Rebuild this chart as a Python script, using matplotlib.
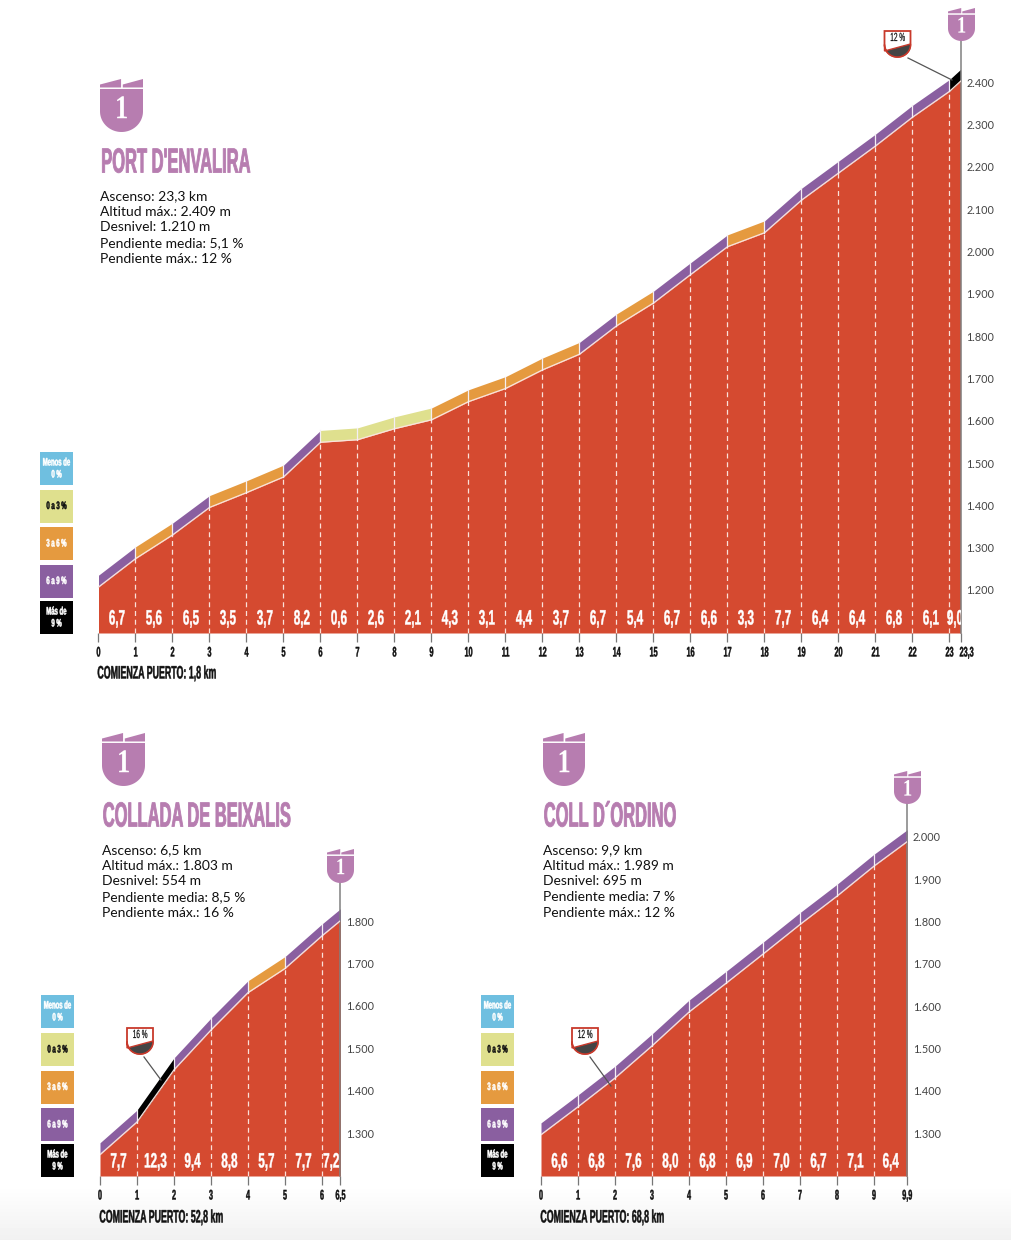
import numpy as np
import matplotlib
matplotlib.use("Agg")
import matplotlib.pyplot as plt
from matplotlib.patches import Polygon, Rectangle
from matplotlib.patheffects import AbstractPathEffect
from matplotlib.transforms import Affine2D, Bbox, ScaledTranslation

W, H = 1012, 1240
HEAVY = ['Liberation Sans', 'DejaVu Sans']
BODY = ['Lato', 'DejaVu Sans']
RED, PINK = '#d54a30', '#b77db0'
COL = {'m': '#6fbfe0', 'y': '#dfe08e', 'o': '#e59a3f', 'p': '#8a5fa0', 'k': '#000000'}

# Port d'Envalira
env_km = [0, 1, 2, 3, 4, 5, 6, 7, 8, 9, 10, 11, 12, 13, 14, 15, 16, 17, 18, 19, 20, 21, 22, 23, 23.3]
env_alt = [1207, 1274, 1330, 1395, 1430, 1467, 1549, 1555, 1581, 1602, 1645, 1676, 1720, 1757, 1824,
           1878, 1945, 2011, 2044, 2121, 2185, 2249, 2317, 2378, 2402]
env_pct = ['6,7', '5,6', '6,5', '3,5', '3,7', '8,2', '0,6', '2,6', '2,1', '4,3', '3,1', '4,4', '3,7', '6,7',
           '5,4', '6,7', '6,6', '3,3', '7,7', '6,4', '6,4', '6,8', '6,1', '9,0']
env_cls = list('popoopyyyoooo' + 'popp' + 'o' + 'ppppp' + 'k')
env_ticks = [str(i) for i in range(24)] + ['23,3']
env_yticks = list(range(1200, 2401, 100))

# Collada de Beixalis
bei_km = [0, 1, 2, 3, 4, 5, 6, 6.5]
bei_alt = [1249, 1326, 1449, 1543, 1631, 1688, 1765, 1801]
bei_pct = ['7,7', '12,3', '9,4', '8,8', '5,7', '7,7', '7,2']
bei_cls = list('pkppopp')
bei_ticks = ['0', '1', '2', '3', '4', '5', '6', '6,5']
bei_yticks = list(range(1300, 1801, 100))

# Coll d'Ordino
ord_km = [0, 1, 2, 3, 4, 5, 6, 7, 8, 9, 9.9]
ord_alt = [1296, 1362, 1430, 1506, 1586, 1654, 1723, 1793, 1860, 1931, 1989]
ord_pct = ['6,6', '6,8', '7,6', '8,0', '6,8', '6,9', '7,0', '6,7', '7,1', '6,4']
ord_cls = list('pppppppppp')
ord_ticks = ['0', '1', '2', '3', '4', '5', '6', '7', '8', '9', '9,9']
ord_yticks = list(range(1300, 2001, 100))

legend_labels = ['Menos de\n0 %', '0 a 3 %', '3 a 6 %', '6 a 9 %', 'Más de\n9 %']
legend_keys = ['m', 'y', 'o', 'p', 'k']
BAND = 28


class Cond(AbstractPathEffect):
    """Squeeze a text horizontally (no condensed display face is installed)."""

    def __init__(self, sx, anchor='center', stroke=0.3):
        super().__init__()
        self.sx, self.anchor, self.stroke = sx, anchor, stroke

    def draw_path(self, renderer, gc, tpath, affine, rgbFace=None):
        e = tpath.get_extents()
        c = (e.x0 + e.x1) / 2 if self.anchor == 'center' else e.x0
        aff = Affine2D().translate(-c, 0).scale(self.sx, 1).translate(c, 0) + affine
        g = renderer.new_gc()
        g.copy_properties(gc)
        g.set_linewidth(self.stroke)
        if rgbFace is not None:
            g.set_foreground(rgbFace)
        renderer.draw_path(g, tpath, aff, rgbFace)
        g.restore()


def condense(t, sx, anchor='center', stroke=0.3):
    """Apply the squeeze and make the text report the box it really occupies."""
    t.set_path_effects([Cond(sx, anchor, stroke)])
    full = t.get_window_extent

    def extent(renderer=None, dpi=None):
        b = full(renderer, dpi)
        w = b.width * sx
        x0 = (b.x0 + b.x1 - w) / 2 if anchor == 'center' else b.x0
        return Bbox.from_extents(x0, b.y0, x0 + w, b.y1)

    t.get_window_extent = extent
    return t


fig = plt.figure(figsize=(W / 100, H / 100), dpi=100, facecolor='white')

bg = fig.add_axes([0, 0, 1, 1], zorder=0)
bg.set_axis_off()
grad = np.concatenate([np.ones(1185), np.linspace(1, 0.945, 55)])[:, None]
bg.imshow(grad, cmap='gray', vmin=0, vmax=1, aspect='auto', extent=(0, W, H, 0))


def profile(km, alt, pct, cls, ticks, yticks, x0, km_px, ref_px, px100, base_px, top_px, last_shift=0):
    xmax = km[-1]
    ymin = yticks[0] - (base_px - ref_px) / px100 * 100
    ymax = yticks[0] + (ref_px - top_px) / px100 * 100
    ax = fig.add_axes([x0 / W, 1 - base_px / H, xmax * km_px / W, (base_px - top_px) / H], zorder=2)
    ax.patch.set_alpha(0)
    ax.set_xlim(0, xmax)
    ax.set_ylim(ymin, ymax)
    for i in range(len(pct)):
        xs = km[i:i + 2]
        ys = np.array(alt[i:i + 2])
        ax.fill_between(xs, ys, ys + BAND, color=COL[cls[i]], lw=0, zorder=1)
    ax.fill_between(km, ymin, alt, color=RED, lw=0, zorder=2)
    ax.plot(km, alt, color='#fbe3dc', lw=0.9, zorder=3)
    for k, a in zip(km[1:-1], alt[1:-1]):
        ax.plot([k, k], [ymin, a], color='#fbe0d8', lw=0.9, dashes=(4, 3), zorder=3)
        ax.plot([k, k], [a, a + BAND], color='#f4eef4', lw=0.9, zorder=3)
    for i, t in enumerate(pct):
        xm = (km[i] + km[i + 1]) / 2
        condense(ax.text(xm, ymin + 14 / px100 * 100, t, color='white', ha='center', va='center', family=HEAVY,
                         weight='bold', fontsize=15, zorder=4, clip_on=True), 0.56)
    ax.set_xticks(km)
    labs = ax.set_xticklabels(ticks, family=HEAVY, weight='bold', fontsize=10, color='#111111')
    for l in labs:
        condense(l, 0.52)
    ax.tick_params(axis='x', length=6.5, width=0.9, color='#777777', pad=2.5)
    if last_shift:
        labs[-1].set_transform(labs[-1].get_transform() + ScaledTranslation(last_shift / 100, 0, fig.dpi_scale_trans))
    ax.yaxis.tick_right()
    ax.set_yticks(yticks)
    ax.set_yticklabels([f'{v // 1000}.{v % 1000:03d}' for v in yticks], family=BODY, fontsize=7.8, color='#444444')
    ax.tick_params(axis='y', length=0, pad=4)
    for s in ('top', 'left', 'bottom'):
        ax.spines[s].set_visible(False)
    ax.spines['right'].set_color('#808080')
    ax.spines['right'].set_linewidth(1.1)
    return ax


profile(env_km, env_alt, env_pct, env_cls, env_ticks, env_yticks, 98.5, 37.0, 590, 42.33, 633, 40, last_shift=6)
profile(bei_km, bei_alt, bei_pct, bei_cls, bei_ticks, bei_yticks, 100, 37.0, 1133, 42.4, 1176, 882)
profile(ord_km, ord_alt, ord_pct, ord_cls, ord_ticks, ord_yticks, 541, 37.0, 1133, 42.3, 1176, 803)

ov = fig.add_axes([0, 0, 1, 1], zorder=3)
ov.set_xlim(0, W)
ov.set_ylim(H, 0)
ov.set_axis_off()
ov.patch.set_alpha(0)


def shield_pts(x, y, w, h):
    t = np.linspace(0, np.pi, 40)
    rx, ry = w / 2, h * 0.48
    yc = y + h - ry
    xs = x + rx + rx * np.cos(t)
    ys = yc + ry * np.sin(t)
    return np.column_stack([np.r_[x + w, xs, x], np.r_[y, ys, y]])


def badge(x, y, w, h, fs):
    flag = h * 0.16
    ov.add_patch(Polygon([(x, y + flag * 0.65), (x + w * 0.49, y), (x + w * 0.49, y + flag), (x, y + flag)], fc=PINK, lw=0))
    ov.add_patch(Polygon([(x + w * 0.53, y + flag * 0.65), (x + w, y), (x + w, y + flag), (x + w * 0.53, y + flag)], fc=PINK, lw=0))
    ov.add_patch(Polygon(shield_pts(x, y + flag + 1.5, w, h - flag - 1.5), fc=PINK, lw=0))
    condense(ov.text(x + w / 2, y + h * 0.58, '1', color='white', ha='center', va='center', family='Liberation Serif',
                     weight='bold', fontsize=fs), 0.8, stroke=0)


def callout(x, y, txt, line):
    w, h = 26, 26
    ov.plot(line[0], line[1], color='#555555', lw=0.9)
    ov.add_patch(Polygon(shield_pts(x, y, w, h), fc='white', ec='#c8392b', lw=1.3))
    t = np.linspace(0, np.pi, 30)
    xs = x + 13 + 13 * np.cos(t)
    ys = y + 26 - 12.5 + 12.5 * np.sin(t)
    ov.add_patch(Polygon(np.column_stack([np.r_[x + 26, xs, x], np.r_[y + 13, ys, y + 20]]), fc='#444444',
                         ec='#c8392b', lw=1.0))
    condense(ov.text(x + 13, y + 7, txt, color='#111111', ha='center', va='center', family=HEAVY, weight='normal',
                     fontsize=8.5), 0.55, stroke=0.15)


def legend(x, ys, hs=33):
    for lab, key, y in zip(legend_labels, legend_keys, ys):
        ov.add_patch(Rectangle((x, y), 33, hs, fc=COL[key], ec='none'))
        c = '#111111' if key == 'y' else 'white'
        condense(ov.text(x + 16.5, y + hs / 2, lab, color=c, ha='center', va='center', family=HEAVY, weight='bold',
                         fontsize=7.8, linespacing=1.25), 0.55, stroke=0.35)


def info(x, y, title, lines, start, sy, title_y):
    condense(ov.text(x, title_y, title, color=PINK, family=HEAVY, weight='bold', fontsize=25, ha='left', va='center'),
             0.475, anchor='left', stroke=0.6)
    for i, l in enumerate(lines):
        ov.text(x, y + i * 15.7, l, color='#111111', family=BODY, fontsize=10, ha='left', va='center')
    condense(ov.text(start[0], start[1], sy, color='#111111', family=HEAVY, weight='bold', fontsize=13, ha='left',
                     va='center'), 0.49, anchor='left', stroke=0.3)


badge(100, 79, 43, 53, 24)
badge(102, 733, 43, 53, 24)
badge(543, 733, 42, 53, 24)
badge(948, 8, 27, 33, 17)
badge(327, 849, 27, 34, 17)
badge(894, 771, 27, 33, 17)

info(100, 196, "PORT D'ENVALIRA",
     ['Ascenso: 23,3 km', 'Altitud máx.: 2.409 m', 'Desnivel: 1.210 m', 'Pendiente media: 5,1 %', 'Pendiente máx.: 12 %'],
     (97, 674), 'COMIENZA PUERTO: 1,8 km', 163)
info(102, 850, 'COLLADA DE BEIXALIS',
     ['Ascenso: 6,5 km', 'Altitud máx.: 1.803 m', 'Desnivel: 554 m', 'Pendiente media: 8,5 %', 'Pendiente máx.: 16 %'],
     (99, 1218), 'COMIENZA PUERTO: 52,8 km', 817)
info(543, 850, 'COLL D´ORDINO',
     ['Ascenso: 9,9 km', 'Altitud máx.: 1.989 m', 'Desnivel: 695 m', 'Pendiente media: 7 %', 'Pendiente máx.: 12 %'],
     (540, 1218), 'COMIENZA PUERTO: 68,8 km', 817)

legend(40, [452, 489.5, 527, 564.5, 601])
legend(41, [995, 1033, 1070.5, 1108, 1144])
legend(481, [995, 1033, 1070.5, 1108, 1144])

callout(884.5, 31, '12 %', ([908, 952], [58, 80]))
callout(127, 1028, '16 %', ([144, 161], [1057, 1080]))
callout(572, 1028, '12 %', ([590, 611], [1057, 1086]))

fig.savefig('out.png', dpi=100)
